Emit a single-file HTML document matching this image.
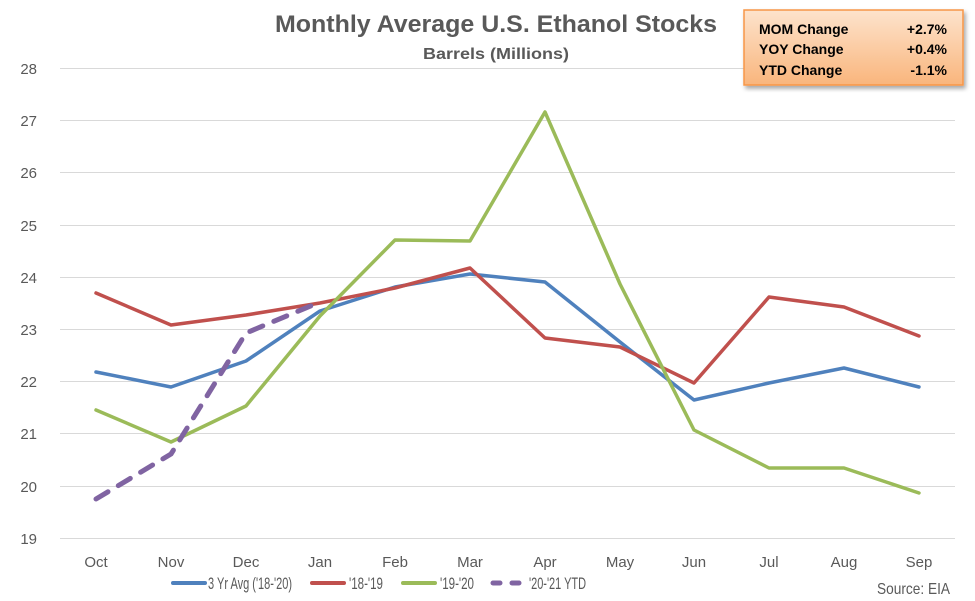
<!DOCTYPE html>
<html><head><meta charset="utf-8"><style>
body{margin:0;background:#fff;}
svg{display:block;font-family:"Liberation Sans",sans-serif;}
</style></head><body>
<svg width="975" height="601" viewBox="0 0 975 601">
<defs>
<linearGradient id="g" x1="0" y1="0" x2="0" y2="1">
<stop offset="0" stop-color="#fde3cc"/><stop offset="1" stop-color="#f9b57c"/>
</linearGradient>
<filter id="s"><feDropShadow dx="2" dy="3" stdDeviation="2" flood-opacity="0.35"/></filter>
</defs>
<rect width="975" height="601" fill="#fff"/>
<g stroke="#d9d9d9" stroke-width="1">
<line x1="60" x2="955" y1="68.5" y2="68.5"/><line x1="60" x2="955" y1="120.5" y2="120.5"/>
<line x1="60" x2="955" y1="172.5" y2="172.5"/><line x1="60" x2="955" y1="225.5" y2="225.5"/>
<line x1="60" x2="955" y1="277.5" y2="277.5"/><line x1="60" x2="955" y1="329.5" y2="329.5"/>
<line x1="60" x2="955" y1="381.5" y2="381.5"/><line x1="60" x2="955" y1="433.5" y2="433.5"/>
<line x1="60" x2="955" y1="486.5" y2="486.5"/><line x1="60" x2="955" y1="538.5" y2="538.5"/>
</g>
<g font-size="15" fill="#595959" text-anchor="end">
<text x="37" y="74">28</text><text x="37" y="126">27</text><text x="37" y="178">26</text>
<text x="37" y="231">25</text><text x="37" y="283">24</text><text x="37" y="335">23</text>
<text x="37" y="387">22</text><text x="37" y="439">21</text><text x="37" y="492">20</text>
<text x="37" y="544">19</text>
</g>
<g font-size="15" fill="#595959" text-anchor="middle">
<text x="96" y="567">Oct</text><text x="171" y="567">Nov</text><text x="246" y="567">Dec</text>
<text x="320" y="567">Jan</text><text x="395" y="567">Feb</text><text x="470" y="567">Mar</text>
<text x="545" y="567">Apr</text><text x="620" y="567">May</text><text x="694" y="567">Jun</text>
<text x="769" y="567">Jul</text><text x="844" y="567">Aug</text><text x="919" y="567">Sep</text>
</g>
<g fill="none" stroke-width="3.5" stroke-linejoin="round" stroke-linecap="round">
<polyline stroke="#4f81bd" points="96,372 171,387 246,361 320,311 395,287 470,274 545,282 620,342 694,400 769,383 844,368 919,387"/>
<polyline stroke="#c0504d" points="96,293 171,325 246,315 320,303 395,288 470,268 545,338 620,347 694,383 769,297 844,307 919,336"/>
<polyline stroke="#9bbb59" points="96,410 171,442 246,406 320,316 395,240 470,241 545,112 620,284 694,430 769,468 844,468 919,493"/>
<polyline stroke="#8064a2" stroke-width="5" stroke-dasharray="14,12" points="96,499 171,454 246,333 320,302"/>
</g>
<text x="496" y="32" font-size="24" font-weight="bold" fill="#595959" text-anchor="middle" textLength="442" lengthAdjust="spacingAndGlyphs">Monthly Average U.S. Ethanol Stocks</text>
<text x="496" y="59" font-size="16" font-weight="bold" fill="#595959" text-anchor="middle" textLength="146" lengthAdjust="spacingAndGlyphs">Barrels (Millions)</text>
<rect x="744" y="10" width="219" height="75" fill="url(#g)" stroke="#f79646" stroke-width="1.5" filter="url(#s)"/>
<g font-size="14" font-weight="bold" fill="#000">
<text x="759" y="34">MOM Change</text><text x="759" y="54">YOY Change</text><text x="759" y="75">YTD Change</text>
<g text-anchor="end"><text x="947" y="34">+2.7%</text><text x="947" y="54">+0.4%</text><text x="947" y="75">-1.1%</text></g>
</g>
<g stroke-width="4" stroke-linecap="round">
<line x1="173" x2="205" y1="583" y2="583" stroke="#4f81bd"/>
<line x1="312" x2="344" y1="583" y2="583" stroke="#c0504d"/>
<line x1="403" x2="435" y1="583" y2="583" stroke="#9bbb59"/>
<line x1="493" x2="500" y1="583" y2="583" stroke="#8064a2" stroke-width="5"/>
<line x1="512" x2="519" y1="583" y2="583" stroke="#8064a2" stroke-width="5"/>
</g>
<g font-size="17" fill="#595959">
<text x="208" y="589" textLength="84" lengthAdjust="spacingAndGlyphs">3 Yr Avg ('18-'20)</text>
<text x="349" y="589" textLength="34" lengthAdjust="spacingAndGlyphs">'18-'19</text>
<text x="440" y="589" textLength="34" lengthAdjust="spacingAndGlyphs">'19-'20</text>
<text x="529" y="589" textLength="57" lengthAdjust="spacingAndGlyphs">'20-'21 YTD</text>
<text x="877" y="594" font-size="16" textLength="73" lengthAdjust="spacingAndGlyphs">Source: EIA</text>
</g>
</svg>
</body></html>
